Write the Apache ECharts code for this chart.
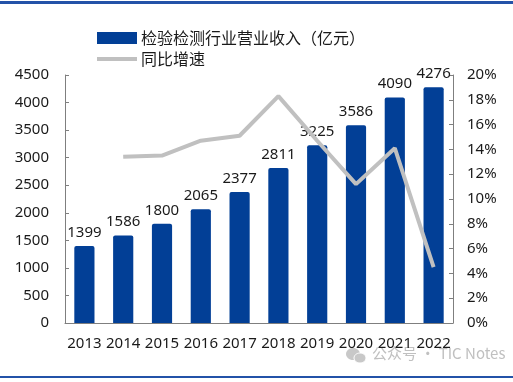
<!DOCTYPE html>
<html><head><meta charset="utf-8">
<script src="https://cdn.jsdelivr.net/npm/echarts@6/dist/echarts.min.js"></script>
<style>html,body{margin:0;padding:0;background:#fff}#c{width:513px;height:382px}</style>
</head><body><div id="c"></div>
<script>
const categories = ['2013','2014','2015','2016','2017','2018','2019','2020','2021','2022'];
const revenue = [1399,1586,1800,2065,2377,2811,3225,3586,4090,4276];
const growth = [null,13.4,13.5,14.7,15.1,18.3,14.7,11.2,14.1,4.5];
const leftTicks = {min:0,max:4500,interval:500};
const rightTicks = {min:0,max:20,interval:2};
const seriesNames = ['检验检测行业营业收入（亿元）','同比增速'];
const watermark = '公众号 · TIC Notes';

const numFont = "'Noto Sans',sans-serif";
const cjkFont = "'Noto Sans CJK SC',sans-serif";
const chart = echarts.init(document.getElementById('c'));
chart.setOption({
  animation:false,
  backgroundColor:'#fff',
  legend:{
    orient:'vertical', left:97, top:30, padding:0, itemWidth:40, itemHeight:12, itemGap:5,
    textStyle:{fontFamily:cjkFont,fontSize:16,color:'#1a1a1a',padding:[0,0,0,-1]},
    data:[{name:seriesNames[0],icon:'rect'},
          {name:seriesNames[1],icon:'path://M0,0 L40,0 L40,4 L0,4 Z',itemStyle:{color:'#c0c0c0'}}]
  },
  grid:{left:65,right:60,top:75,bottom:59},
  xAxis:{type:'category',data:categories,
    axisLine:{lineStyle:{color:'#7f7f7f',width:1}},
    axisTick:{inside:true,length:5,lineStyle:{color:'#7f7f7f'}},
    axisLabel:{interval:0,fontFamily:numFont,fontSize:15,color:'#1a1a1a',margin:13}},
  yAxis:[
    {type:'value',min:leftTicks.min,max:leftTicks.max,interval:leftTicks.interval,
     axisLine:{show:true,lineStyle:{color:'#7f7f7f'}},
     axisTick:{show:true,inside:true,length:4,lineStyle:{color:'#7f7f7f'}},
     splitLine:{show:false},
     axisLabel:{fontFamily:numFont,fontSize:15,color:'#1a1a1a',margin:16,formatter:function(v){return String(v);}}},
    {type:'value',min:rightTicks.min,max:rightTicks.max,interval:rightTicks.interval,
     axisLine:{show:true,lineStyle:{color:'#7f7f7f'}},
     axisTick:{show:true,inside:true,length:4,lineStyle:{color:'#7f7f7f'}},
     splitLine:{show:false},
     axisLabel:{fontFamily:numFont,fontSize:15,color:'#1a1a1a',margin:14,formatter:'{value}%'}}
  ],
  series:[
    {name:seriesNames[0],type:'bar',data:revenue,barWidth:'52%',
     itemStyle:{color:'#023f96',borderRadius:[2,2,0,0]},
     label:{show:true,position:'top',distance:6,fontFamily:numFont,fontSize:15,color:'#1a1a1a'}},
    {name:seriesNames[1],type:'line',yAxisIndex:1,data:growth,symbol:'none',
     lineStyle:{color:'#c0c0c0',width:4},itemStyle:{color:'#c0c0c0'}}
  ],
  graphic:[
    {type:'rect',left:0,top:1,shape:{width:513,height:3},style:{fill:'#2352a8'}},
    {type:'rect',left:0,top:376,shape:{width:513,height:2},style:{fill:'#2352a8'}},
    {type:'group',left:346,top:348,children:[
      {type:'ellipse',shape:{cx:9,cy:7,rx:7,ry:6},style:{fill:'#c8c8c8'}},
      {type:'ellipse',shape:{cx:16,cy:11,rx:6,ry:5},style:{fill:'#c8c8c8',stroke:'#fff',lineWidth:1}}
    ]},
    {type:'text',left:372,top:346,style:{text:watermark,fill:'#c0c0c0',font:"15px 'Noto Sans CJK SC',sans-serif"}}
  ]
});
</script></body></html>
